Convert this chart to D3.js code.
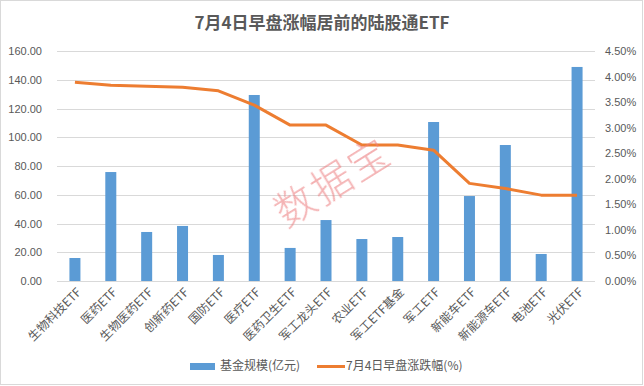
<!DOCTYPE html>
<html>
<head>
<meta charset="utf-8">
<script src="https://cdn.jsdelivr.net/npm/d3@7"></script>
<style>
  body { margin: 0; background: #fff; }
  text { font-family: "Noto Sans CJK SC", "Microsoft YaHei", sans-serif; }
</style>
</head>
<body>
<svg width="644" height="386"></svg>
<script>
// categories and series
var names = ["生物科技ETF", "医药ETF", "生物医药ETF", "创新药ETF", "国防ETF", "医疗ETF",
    "医药卫生ETF", "军工龙头ETF", "农业ETF", "军工ETF基金", "军工ETF", "新能车ETF",
    "新能源车ETF", "电池ETF", "光伏ETF"];
var fundSize = [16.0, 75.8, 34.1, 38.3, 18.1, 129.4, 23.0, 42.4, 29.2, 30.6, 110.6, 59.1, 94.6, 18.8, 148.9];
var morningGain = [3.89, 3.83, 3.81, 3.79, 3.72, 3.44, 3.05, 3.05, 2.66, 2.66, 2.56, 1.91, 1.81, 1.68, 1.68];
var leftTicks = [0, 20, 40, 60, 80, 100, 120, 140, 160];
var rightTicks = [0, 0.5, 1, 1.5, 2, 2.5, 3, 3.5, 4, 4.5];

var svg = d3.select("svg"),
    margin = {top: 51, right: 49, bottom: 105, left: 57},
    width = 644 - margin.left - margin.right,
    height = 386 - margin.top - margin.bottom,
    g = svg.append("g").attr("transform", "translate(" + margin.left + "," + margin.top + ")");

// outer frame
svg.append("rect")
    .attr("x", 0.5).attr("y", 0.5).attr("width", 642).attr("height", 384)
    .attr("fill", "none").attr("stroke", "#d9d9d9");

svg.append("text")
    .attr("x", 322).attr("y", 29)
    .attr("text-anchor", "middle")
    .attr("font-size", 17).attr("font-weight", "bold")
    .attr("fill", "#595959")
    .text("7月4日早盘涨幅居前的陆股通ETF");

var x = d3.scaleBand().domain(names).range([0, width]),
    y = d3.scaleLinear().domain([0, 160]).range([height, 0]),
    y2 = d3.scaleLinear().domain([0, 4.5]).range([height, 0]);

// gridlines
g.selectAll(".grid").data(leftTicks).enter().append("line")
    .attr("x1", 0).attr("x2", width)
    .attr("y1", function(d) { return Math.round(y(d)) + 0.5; })
    .attr("y2", function(d) { return Math.round(y(d)) + 0.5; })
    .attr("stroke", "#d9d9d9");

// left axis
var axL = g.append("g")
    .call(d3.axisLeft(y).tickValues(leftTicks).tickSize(0).tickPadding(15)
        .tickFormat(function(d) { return d.toFixed(2); }));
axL.select(".domain").remove();
axL.selectAll("text").attr("font-size", 11).attr("fill", "#595959")
    .style("font-family", "'Liberation Sans', Arial, sans-serif");

// right axis
var axR = g.append("g").attr("transform", "translate(" + width + ",0)")
    .call(d3.axisRight(y2).tickValues(rightTicks).tickSize(0).tickPadding(10)
        .tickFormat(function(d) { return d.toFixed(2) + "%"; }));
axR.select(".domain").remove();
axR.selectAll("text").attr("font-size", 11).attr("fill", "#595959")
    .style("font-family", "'Liberation Sans', Arial, sans-serif");

// x axis labels
var axB = g.append("g").attr("transform", "translate(0," + height + ")")
    .call(d3.axisBottom(x).tickSize(0).tickPadding(0));
axB.select(".domain").remove();
axB.selectAll("text")
    .attr("font-size", 12).attr("fill", "#595959")
    .attr("text-anchor", "end")
    .attr("dy", null).attr("y", 0)
    .attr("transform", "translate(7,12) rotate(-45)");

// bars
var bw = 11;
g.selectAll(".bar").data(fundSize).enter().append("rect")
    .attr("x", function(d, i) { return x(names[i]) + x.bandwidth() / 2 - bw / 2; })
    .attr("y", function(d) { return y(d); })
    .attr("width", bw)
    .attr("height", function(d) { return height - y(d); })
    .attr("fill", "#5b9bd5");

// line
var line = d3.line()
    .x(function(d, i) { return x(names[i]) + x.bandwidth() / 2; })
    .y(function(d) { return y2(d); });
g.append("path")
    .datum(morningGain)
    .attr("d", line)
    .attr("fill", "none")
    .attr("stroke", "#ed7d31")
    .attr("stroke-width", 3)
    .attr("stroke-linejoin", "round");

// watermark
var defs = svg.append("defs");
defs.append("filter").attr("id", "soft")
    .append("feGaussianBlur").attr("stdDeviation", 0.7);
svg.append("text")
    .attr("transform", "translate(333,182) rotate(-32)")
    .attr("text-anchor", "middle")
    .attr("dy", "0.35em")
    .attr("font-size", 40)
    .attr("font-weight", 300)
    .attr("letter-spacing", 3)
    .attr("fill", "#ec7f80")
    .attr("fill-opacity", 0.6)
    .attr("filter", "url(#soft)")
    .text("数据宝");

// legend
var lg = svg.append("g").attr("transform", "translate(190,366)");
lg.append("rect").attr("x", 0).attr("y", -3).attr("width", 25).attr("height", 7).attr("fill", "#5b9bd5");
lg.append("text").attr("x", 30).attr("y", 0).attr("dy", "0.35em")
    .attr("font-size", 12).attr("fill", "#595959").text("基金规模(亿元)");
lg.append("line").attr("x1", 127).attr("x2", 155).attr("y1", 0.5).attr("y2", 0.5)
    .attr("stroke", "#ed7d31").attr("stroke-width", 3);
lg.append("text").attr("x", 156).attr("y", 0).attr("dy", "0.35em")
    .attr("font-size", 12).attr("fill", "#595959").text("7月4日早盘涨跌幅(%)");
</script>
</body>
</html>
